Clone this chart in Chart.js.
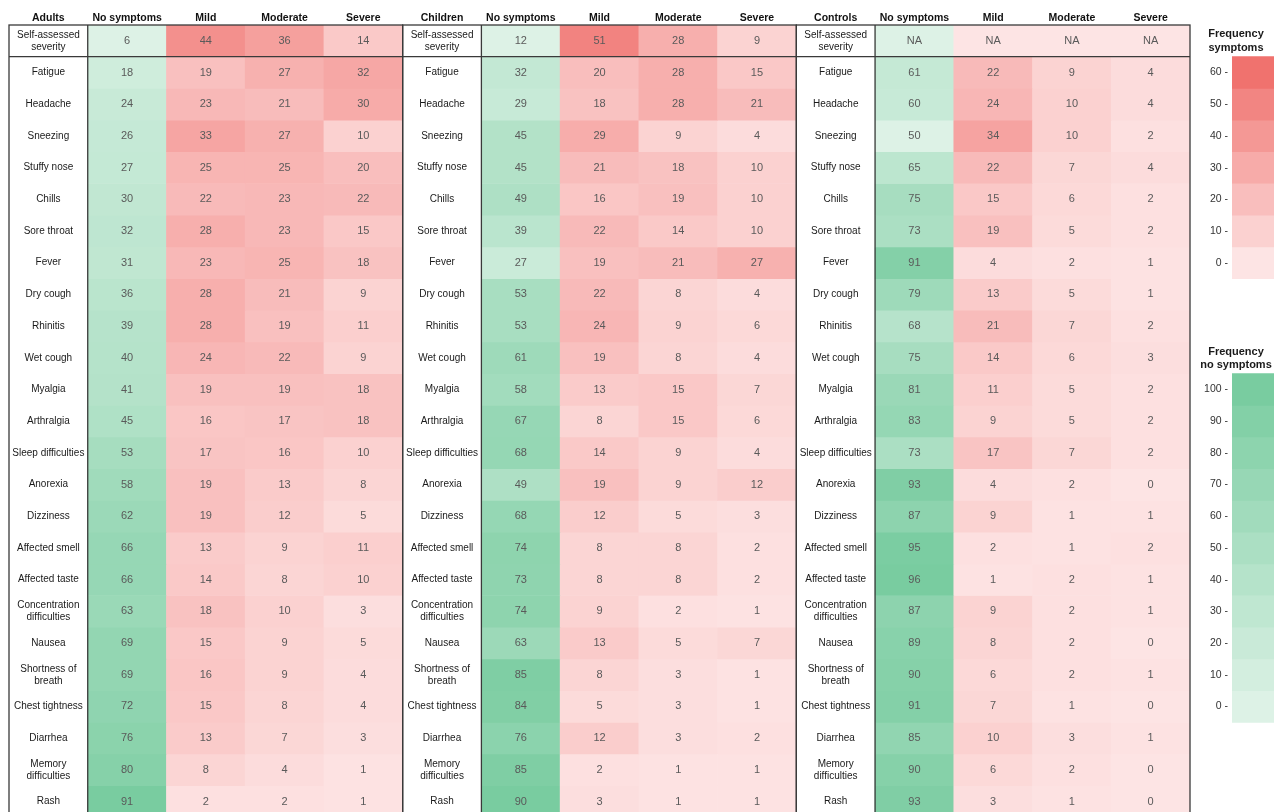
<!DOCTYPE html>
<html>
<head>
<meta charset="utf-8">
<script src="https://cdn.jsdelivr.net/npm/chart.js@4.4.1/dist/chart.umd.min.js"></script>
<style>
  html, body { margin: 0; padding: 0; background: #fff; overflow: hidden; }
  #wrap { position: relative; width: 1274px; height: 812px; overflow: hidden; }
  #main { position: absolute; left: 0; top: 0; }
  #key { position: absolute; left: 1196px; top: 0; }
</style>
</head>
<body>
<div id="wrap">
  <canvas id="main" width="1196" height="812"></canvas>
  <canvas id="key" width="78" height="812"></canvas>
</div>
<script>
// rows of the table (multi-line labels as arrays)
var rowLabels = [
  ['Self-assessed', 'severity'], 'Fatigue', 'Headache', 'Sneezing', 'Stuffy nose', 'Chills',
  'Sore throat', 'Fever', 'Dry cough', 'Rhinitis', 'Wet cough', 'Myalgia', 'Arthralgia',
  'Sleep difficulties', 'Anorexia', 'Dizziness', 'Affected smell', 'Affected taste',
  ['Concentration', 'difficulties'], 'Nausea', ['Shortness of', 'breath'], 'Chest tightness',
  'Diarrhea', ['Memory', 'difficulties'], 'Rash'
];
var groups = ['Adults', 'Children', 'Controls'];
var severities = ['No symptoms', 'Mild', 'Moderate', 'Severe'];

var adultsNone     = [6, 18, 24, 26, 27, 30, 32, 31, 36, 39, 40, 41, 45, 53, 58, 62, 66, 66, 63, 69, 69, 72, 76, 80, 91];
var adultsMild     = [44, 19, 23, 33, 25, 22, 28, 23, 28, 28, 24, 19, 16, 17, 19, 19, 13, 14, 18, 15, 16, 15, 13, 8, 2];
var adultsModerate = [36, 27, 21, 27, 25, 23, 23, 25, 21, 19, 22, 19, 17, 16, 13, 12, 9, 8, 10, 9, 9, 8, 7, 4, 2];
var adultsSevere   = [14, 32, 30, 10, 20, 22, 15, 18, 9, 11, 9, 18, 18, 10, 8, 5, 11, 10, 3, 5, 4, 4, 3, 1, 1];

var childrenNone     = [12, 32, 29, 45, 45, 49, 39, 27, 53, 53, 61, 58, 67, 68, 49, 68, 74, 73, 74, 63, 85, 84, 76, 85, 90];
var childrenMild     = [51, 20, 18, 29, 21, 16, 22, 19, 22, 24, 19, 13, 8, 14, 19, 12, 8, 8, 9, 13, 8, 5, 12, 2, 3];
var childrenModerate = [28, 28, 28, 9, 18, 19, 14, 21, 8, 9, 8, 15, 15, 9, 9, 5, 8, 8, 2, 5, 3, 3, 3, 1, 1];
var childrenSevere   = [9, 15, 21, 4, 10, 10, 10, 27, 4, 6, 4, 7, 6, 4, 12, 3, 2, 2, 1, 7, 1, 1, 2, 1, 1];

var controlsNone     = [null, 61, 60, 50, 65, 75, 73, 91, 79, 68, 75, 81, 83, 73, 93, 87, 95, 96, 87, 89, 90, 91, 85, 90, 93];
var controlsMild     = [null, 22, 24, 34, 22, 15, 19, 4, 13, 21, 14, 11, 9, 17, 4, 9, 2, 1, 9, 8, 6, 7, 10, 6, 3];
var controlsModerate = [null, 9, 10, 10, 7, 6, 5, 2, 5, 7, 6, 5, 5, 7, 2, 1, 1, 2, 2, 2, 2, 1, 3, 2, 1];
var controlsSevere   = [null, 4, 4, 2, 4, 2, 2, 1, 1, 2, 3, 2, 2, 2, 0, 1, 2, 1, 1, 0, 1, 0, 1, 0, 0];

var symptomTicks = [60, 50, 40, 30, 20, 10, 0];
var noSymptomTicks = [100, 90, 80, 70, 60, 50, 40, 30, 20, 10, 0];

var FONT = '"Liberation Sans", Arial, Helvetica, sans-serif';
var ROWS_SHOWN = 24.83;

function mix(a, b, t) {
  t = Math.max(0, Math.min(1, t));
  return 'rgb(' + [0, 1, 2].map(function (i) { return Math.round(a[i] + (b[i] - a[i]) * t); }).join(',') + ')';
}
var redLo = [253, 228, 228], redHi = [240, 114, 110];
var greenLo = [221, 242, 230], greenHi = [121, 204, 160];
function redColor(v) { return mix(redLo, redHi, (v || 0) / 60); }
function greenColor(t) { return mix(greenLo, greenHi, t); }

// columns of the table
var panelData = [
  [adultsNone, adultsMild, adultsModerate, adultsSevere],
  [childrenNone, childrenMild, childrenModerate, childrenSevere],
  [controlsNone, controlsMild, controlsModerate, controlsSevere]
];
var columns = [];
groups.forEach(function (g, p) {
  columns.push({ header: g, kind: 'label' });
  severities.forEach(function (s, k) {
    columns.push({ header: s, kind: k === 0 ? 'none' : 'sym', values: panelData[p][k] });
  });
});

function cellColor(col, r) {
  if (col.kind === 'label') return '#ffffff';
  var v = col.values[r];
  if (col.kind === 'sym') return redColor(v);
  var nums = col.values.filter(function (x) { return x !== null; });
  var lo = Math.min.apply(null, nums), hi = Math.max.apply(null, nums);
  return greenColor(v === null ? 0 : (v - lo) / (hi - lo));
}

var datasets = rowLabels.map(function (lab, r) {
  return {
    label: Array.isArray(lab) ? lab.join(' ') : lab,
    data: columns.map(function () { return [r, r + 1]; }),
    backgroundColor: columns.map(function (col) { return cellColor(col, r); }),
    borderWidth: 0
  };
});

var tableText = {
  id: 'tableText',
  afterDatasetsDraw: function (chart) {
    var ctx = chart.ctx, xs = chart.scales.x, ys = chart.scales.y;
    ctx.save();
    ctx.textAlign = 'center';
    ctx.textBaseline = 'middle';
    // headers
    ctx.font = 'bold 10.5px ' + FONT;
    ctx.fillStyle = '#111';
    columns.forEach(function (col, j) {
      ctx.fillText(col.header, xs.getPixelForValue(j), 18);
    });
    // cells
    datasets.forEach(function (ds, r) {
      var meta = chart.getDatasetMeta(r);
      columns.forEach(function (col, j) {
        var el = meta.data[j];
        var cy = (el.y + el.base) / 2;
        if (col.kind === 'label') {
          ctx.font = '10px ' + FONT;
          ctx.fillStyle = '#1a1a1a';
          var lab = rowLabels[r];
          if (Array.isArray(lab)) {
            ctx.fillText(lab[0], el.x, cy - 6);
            ctx.fillText(lab[1], el.x, cy + 6);
          } else {
            ctx.fillText(lab, el.x, cy);
          }
        } else {
          ctx.font = '11px ' + FONT;
          ctx.fillStyle = '#5a5a5a';
          var v = col.values[r];
          ctx.fillText(v === null ? 'NA' : String(v), el.x, cy);
        }
      });
    });
    // panel borders
    ctx.strokeStyle = '#3a3a3a';
    ctx.lineWidth = 1.3;
    var top = ys.getPixelForValue(0), sep = ys.getPixelForValue(1), bottom = chart.height + 5;
    groups.forEach(function (g, p) {
      var first = chart.getDatasetMeta(0).data[p * 5];
      var last = chart.getDatasetMeta(0).data[p * 5 + 4];
      var left = first.x - first.width / 2, right = last.x + last.width / 2;
      var mid = first.x + first.width / 2;
      ctx.strokeRect(left, top, right - left, bottom - top);
      ctx.beginPath();
      ctx.moveTo(mid, top); ctx.lineTo(mid, bottom);
      ctx.moveTo(left, sep); ctx.lineTo(right, sep);
      ctx.stroke();
    });
    ctx.restore();
  }
};

new Chart(document.getElementById('main'), {
  type: 'bar',
  data: { labels: columns.map(function (c) { return c.header; }), datasets: datasets },
  options: {
    responsive: false,
    animation: false,
    layout: { padding: { left: 9, top: 25, right: 6, bottom: 0 } },
    datasets: { bar: { grouped: false, barPercentage: 1, categoryPercentage: 1 } },
    scales: {
      x: { type: 'category', display: false },
      y: { type: 'linear', reverse: true, min: 0, max: ROWS_SHOWN, display: false }
    },
    plugins: { legend: { display: false }, tooltip: { enabled: false } }
  },
  plugins: [tableText]
});

// colour keys, aligned with the table rows
var keyRed = symptomTicks.map(function (v, i) {
  return { label: 'sym ' + v, data: [[1 + i, 2 + i]], backgroundColor: redColor(v), borderWidth: 0, tick: v };
});
var keyGreen = noSymptomTicks.map(function (v, i) {
  return { label: 'none ' + v, data: [[11 + i, 12 + i]], backgroundColor: greenColor(v / 100), borderWidth: 0, tick: v };
});

var keyText = {
  id: 'keyText',
  afterDatasetsDraw: function (chart) {
    var ctx = chart.ctx, ys = chart.scales.y;
    var left = chart.chartArea.left;
    ctx.save();
    ctx.fillStyle = '#1a1a1a';
    ctx.textBaseline = 'middle';
    ctx.textAlign = 'center';
    ctx.font = 'bold 11px ' + FONT;
    ctx.fillText('Frequency', 40, 34);
    ctx.fillText('symptoms', 40, 48);
    ctx.fillText('Frequency', 40, 352);
    ctx.fillText('no symptoms', 40, 365);
    ctx.textAlign = 'right';
    ctx.font = '10.5px ' + FONT;
    ctx.fillStyle = '#333';
    chart.data.datasets.forEach(function (ds) {
      var r = ds.data[0];
      var cy = (ys.getPixelForValue(r[0]) + ys.getPixelForValue(r[1])) / 2;
      ctx.fillText(ds.tick + ' -', left - 4, cy);
    });
    ctx.restore();
  }
};

new Chart(document.getElementById('key'), {
  type: 'bar',
  data: { labels: ['key'], datasets: keyRed.concat(keyGreen) },
  options: {
    responsive: false,
    animation: false,
    layout: { padding: { left: 36, top: 25, right: 0, bottom: 0 } },
    datasets: { bar: { grouped: false, barPercentage: 1, categoryPercentage: 1 } },
    scales: {
      x: { type: 'category', display: false },
      y: { type: 'linear', reverse: true, min: 0, max: ROWS_SHOWN, display: false }
    },
    plugins: { legend: { display: false }, tooltip: { enabled: false } }
  },
  plugins: [keyText]
});
</script>
</body>
</html>
